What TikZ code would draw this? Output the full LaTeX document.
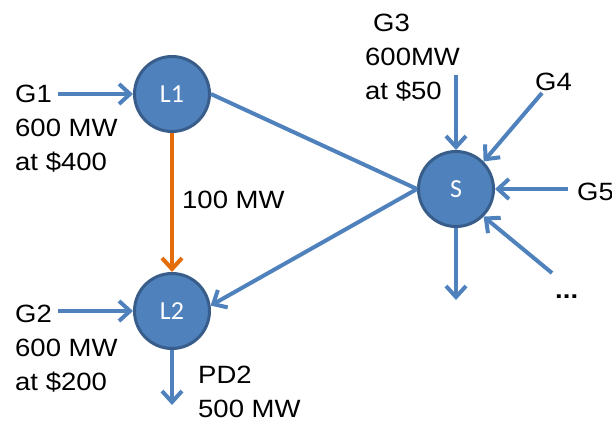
\documentclass[tikz,border=0pt]{standalone}
\usepackage{fontspec}
\setmainfont{Liberation Sans}[FakeStretch=1.1]
\newfontfamily\busfont{Carlito}
\usepackage{xcolor}
\definecolor{linkblue}{RGB}{79,129,189}
\definecolor{busedge}{RGB}{56,93,138}
\definecolor{flowgold}{RGB}{228,108,10}
\usepackage{tikz}
\usetikzlibrary{arrows.meta}

\begin{document}
\begin{tikzpicture}[x=1pt, y=-1pt, >={Straight Barb[length=11pt,width=20pt]},
    bus/.style={circle, draw=busedge, fill=linkblue, line width=3pt, minimum size=75pt, inner sep=0pt,
        text=white, font=\busfont\fontsize{26}{30}\selectfont},
    txt/.style={anchor=base west, align=left, inner sep=0pt, font=\fontsize{25}{34}\selectfont},
    link/.style={line width=4pt, linkblue}]
    \useasboundingbox (0,0) rectangle (612,421);

    \node[bus] (L1) at (172,94) {L1};
    \node[bus] (L2) at (172,311) {L2};
    \node[bus] (S) at (456,189) {S};

    \coordinate (g1end) at (58,94);
    \coordinate (g2end) at (58,311);
    \coordinate (pd2end) at (172,405);
    \coordinate (g3end) at (456,75);
    \coordinate (g4end) at (542,93);
    \coordinate (g5end) at (568,189);
    \coordinate (moreend) at (552,273);
    \coordinate (sdown) at (456,300);

    \draw[link, ->] (g1end) -- (L1);
    \draw[line width=4pt, flowgold, ->] (L1) -- (L2);
    \draw[link, ->] (g2end) -- (L2);
    \draw[link, ->] (L2) -- (pd2end);
    \draw[link] (L1.east) -- (S.west);
    \draw[link, ->] (S.west) -- (L2.8);
    \draw[link, ->] (g3end) -- (S);
    \draw[link, ->] (g4end) -- (S.north east);
    \draw[link, ->] (g5end) -- (S);
    \draw[link, ->] (moreend) -- (S.south east);
    \draw[link, ->] (S) -- (sdown);

    \node[txt] (g1txt) at (15,170) {G1\\600 MW\\at \$400};
    \node[txt] (g2txt) at (15,390) {G2\\600 MW\\at \$200};
    \node[txt] (flowtxt) at (182,208) {100 MW};
    \node[txt] (pd2txt) at (198,417) {PD2\\500 MW};
    \node[txt] (g3txt) at (365,99) {\hspace*{8pt}G3\\600MW\\at \$50};
    \node[txt] (g4txt) at (535,90) {G4};
    \node[txt] (g5txt) at (577,200) {G5};
    \node[txt] (moretxt) at (555,298) {\textbf{...}};
\end{tikzpicture}
\end{document}
